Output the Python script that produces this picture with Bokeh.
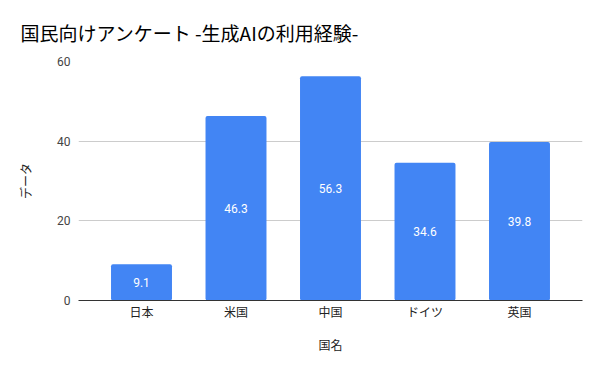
from bokeh.plotting import figure
from bokeh.models import FactorRange, Range1d, FixedTicker, ColumnDataSource, LabelSet
from bokeh.core.properties import value
from bokeh.embed import file_html
from bokeh.resources import INLINE

countries = ["日本", "米国", "中国", "ドイツ", "英国"]
values = [9.1, 46.3, 56.3, 34.6, 39.8]
labels = ["9.1", "46.3", "56.3", "34.6", "39.8"]
y_ticks = [0, 20, 40, 60]

NUMFONT = "Roboto"
CJK = "Noto Sans CJK JP"

src = ColumnDataSource(dict(x=countries, top=values, mid=[v / 2 for v in values], lab=labels))

p = figure(
    x_range=FactorRange(factors=countries, range_padding=0.1667, range_padding_units="absolute"),
    y_range=Range1d(0, 60),
    frame_width=504, frame_height=239,
    min_border_left=78, min_border_right=10, min_border_top=61, min_border_bottom=63,
    output_backend="svg", toolbar_location=None,
    title="国民向けアンケート -生成AIの利用経験-",
)
p.outline_line_color = None
p.background_fill_color = "white"
p.border_fill_color = "white"

p.title.text_font = CJK
p.title.text_font_size = "19px"
p.title.text_font_style = "normal"
p.title.text_color = "#000000"
p.title.offset = -58
p.title.standoff = 32

p.vbar(x="x", top="top", width=0.645, source=src, color="#4285F4", line_color=None, border_radius=2)

p.add_layout(LabelSet(x="x", y="mid", text="lab", source=src, text_color="white",
                      text_font_size="12px", text_font=value(NUMFONT), text_align="center",
                      text_baseline="middle"))

p.yaxis.ticker = FixedTicker(ticks=y_ticks)
p.yaxis.axis_line_color = None
p.yaxis.major_tick_line_color = None
p.yaxis.minor_tick_line_color = None
p.yaxis.major_label_text_font = NUMFONT
p.yaxis.major_label_text_font_size = "12px"
p.yaxis.major_label_text_color = "#444444"
p.yaxis.major_label_standoff = 2
p.yaxis.axis_label = "データ"
p.yaxis.axis_label_text_font = CJK
p.yaxis.axis_label_text_font_size = "12px"
p.yaxis.axis_label_text_font_style = "normal"
p.yaxis.axis_label_text_color = "#222222"
p.yaxis.axis_label_standoff = 20

p.xaxis.axis_line_color = "#333333"
p.xaxis.axis_line_width = 1
p.xaxis.major_tick_line_color = None
p.xaxis.minor_tick_line_color = None
p.xaxis.major_label_text_font = CJK
p.xaxis.major_label_text_font_size = "12px"
p.xaxis.major_label_text_color = "#222222"
p.xaxis.major_label_standoff = -4
p.xaxis.axis_label = "国名"
p.xaxis.axis_label_text_font = CJK
p.xaxis.axis_label_text_font_size = "12px"
p.xaxis.axis_label_text_font_style = "normal"
p.xaxis.axis_label_text_color = "#222222"
p.xaxis.axis_label_standoff = 13

p.xgrid.grid_line_color = None
p.ygrid.grid_line_color = "#cccccc"
p.ygrid.ticker = FixedTicker(ticks=[20, 40, 60])

open("out.html", "w").write(file_html(p, INLINE))
